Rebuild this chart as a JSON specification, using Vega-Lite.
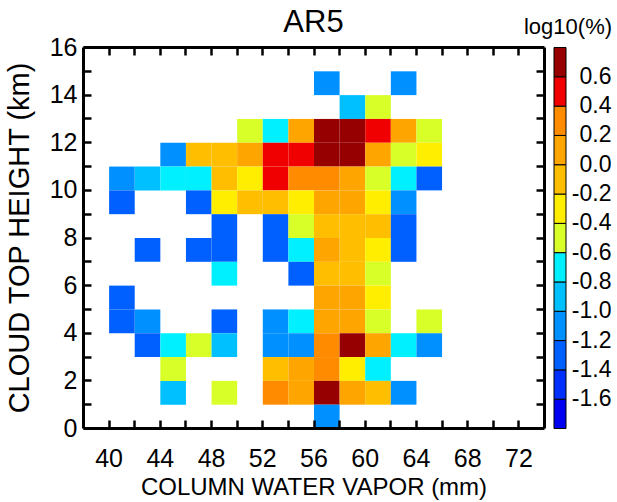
{
  "$schema": "https://vega.github.io/schema/vega-lite/v6.json",
  "background": "white",
  "padding": {"left": 5, "top": 7, "right": 5, "bottom": 3},
  "bounds": "flush",
  "spacing": 10,
  "config": {
    "view": {"stroke": null},
    "font": "Liberation Sans",
    "axis": {"grid": false, "domainColor": "black", "domainWidth": 3, "tickColor": "black", "tickWidth": 2.5, "labelColor": "black", "titleColor": "black", "titleFontWeight": "normal"},
    "title": {"fontWeight": "normal", "color": "black"}
  },
  "datasets": {
    "cells": [
      {"cwv": 56, "cth": 14, "v": -1.1}, {"cwv": 62, "cth": 14, "v": -1.1},
      {"cwv": 58, "cth": 13, "v": -0.9}, {"cwv": 60, "cth": 13, "v": -0.5},
      {"cwv": 50, "cth": 12, "v": -0.5}, {"cwv": 52, "cth": 12, "v": -0.7}, {"cwv": 54, "cth": 12, "v": 0.1}, {"cwv": 56, "cth": 12, "v": 0.7}, {"cwv": 58, "cth": 12, "v": 0.7}, {"cwv": 60, "cth": 12, "v": 0.5}, {"cwv": 62, "cth": 12, "v": 0.1}, {"cwv": 64, "cth": 12, "v": -0.5},
      {"cwv": 44, "cth": 11, "v": -1.1}, {"cwv": 46, "cth": 11, "v": -0.1}, {"cwv": 48, "cth": 11, "v": -0.1}, {"cwv": 50, "cth": 11, "v": 0.1}, {"cwv": 52, "cth": 11, "v": 0.5}, {"cwv": 54, "cth": 11, "v": 0.5}, {"cwv": 56, "cth": 11, "v": 0.7}, {"cwv": 58, "cth": 11, "v": 0.7}, {"cwv": 60, "cth": 11, "v": 0.1}, {"cwv": 62, "cth": 11, "v": -0.5}, {"cwv": 64, "cth": 11, "v": -0.3},
      {"cwv": 40, "cth": 10, "v": -1.1}, {"cwv": 42, "cth": 10, "v": -0.9}, {"cwv": 44, "cth": 10, "v": -0.7}, {"cwv": 46, "cth": 10, "v": -0.7}, {"cwv": 48, "cth": 10, "v": -0.1}, {"cwv": 50, "cth": 10, "v": -0.3}, {"cwv": 52, "cth": 10, "v": 0.5}, {"cwv": 54, "cth": 10, "v": 0.3}, {"cwv": 56, "cth": 10, "v": 0.3}, {"cwv": 58, "cth": 10, "v": 0.1}, {"cwv": 60, "cth": 10, "v": -0.5}, {"cwv": 62, "cth": 10, "v": -0.7}, {"cwv": 64, "cth": 10, "v": -1.3},
      {"cwv": 40, "cth": 9, "v": -1.3}, {"cwv": 46, "cth": 9, "v": -1.3}, {"cwv": 48, "cth": 9, "v": -0.3}, {"cwv": 50, "cth": 9, "v": -0.1}, {"cwv": 52, "cth": 9, "v": -0.1}, {"cwv": 54, "cth": 9, "v": -0.3}, {"cwv": 56, "cth": 9, "v": 0.1}, {"cwv": 58, "cth": 9, "v": 0.1}, {"cwv": 60, "cth": 9, "v": -0.3}, {"cwv": 62, "cth": 9, "v": -1.1},
      {"cwv": 48, "cth": 8, "v": -1.3}, {"cwv": 52, "cth": 8, "v": -1.3}, {"cwv": 54, "cth": 8, "v": -0.5}, {"cwv": 56, "cth": 8, "v": -0.1}, {"cwv": 58, "cth": 8, "v": -0.1}, {"cwv": 60, "cth": 8, "v": -0.1}, {"cwv": 62, "cth": 8, "v": -1.3},
      {"cwv": 42, "cth": 7, "v": -1.3}, {"cwv": 46, "cth": 7, "v": -1.3}, {"cwv": 48, "cth": 7, "v": -1.3}, {"cwv": 52, "cth": 7, "v": -1.3}, {"cwv": 54, "cth": 7, "v": -0.7}, {"cwv": 56, "cth": 7, "v": 0.1}, {"cwv": 58, "cth": 7, "v": -0.1}, {"cwv": 60, "cth": 7, "v": -0.3}, {"cwv": 62, "cth": 7, "v": -1.3},
      {"cwv": 48, "cth": 6, "v": -0.7}, {"cwv": 54, "cth": 6, "v": -1.3}, {"cwv": 56, "cth": 6, "v": -0.1}, {"cwv": 58, "cth": 6, "v": -0.1}, {"cwv": 60, "cth": 6, "v": -0.5},
      {"cwv": 40, "cth": 5, "v": -1.3}, {"cwv": 56, "cth": 5, "v": 0.1}, {"cwv": 58, "cth": 5, "v": 0.1}, {"cwv": 60, "cth": 5, "v": -0.3},
      {"cwv": 40, "cth": 4, "v": -1.3}, {"cwv": 42, "cth": 4, "v": -1.1}, {"cwv": 48, "cth": 4, "v": -1.3}, {"cwv": 52, "cth": 4, "v": -1.1}, {"cwv": 54, "cth": 4, "v": -0.7}, {"cwv": 56, "cth": 4, "v": 0.1}, {"cwv": 58, "cth": 4, "v": 0.1}, {"cwv": 60, "cth": 4, "v": -0.5}, {"cwv": 64, "cth": 4, "v": -0.5},
      {"cwv": 42, "cth": 3, "v": -1.3}, {"cwv": 44, "cth": 3, "v": -0.7}, {"cwv": 46, "cth": 3, "v": -0.5}, {"cwv": 48, "cth": 3, "v": -0.9}, {"cwv": 52, "cth": 3, "v": -1.1}, {"cwv": 54, "cth": 3, "v": -1.1}, {"cwv": 56, "cth": 3, "v": 0.3}, {"cwv": 58, "cth": 3, "v": 0.7}, {"cwv": 60, "cth": 3, "v": 0.1}, {"cwv": 62, "cth": 3, "v": -0.7}, {"cwv": 64, "cth": 3, "v": -1.1},
      {"cwv": 44, "cth": 2, "v": -0.5}, {"cwv": 52, "cth": 2, "v": -0.1}, {"cwv": 54, "cth": 2, "v": 0.1}, {"cwv": 56, "cth": 2, "v": 0.3}, {"cwv": 58, "cth": 2, "v": -0.3}, {"cwv": 60, "cth": 2, "v": -0.7},
      {"cwv": 44, "cth": 1, "v": -0.9}, {"cwv": 48, "cth": 1, "v": -0.5}, {"cwv": 52, "cth": 1, "v": 0.3}, {"cwv": 54, "cth": 1, "v": 0.1}, {"cwv": 56, "cth": 1, "v": 0.7}, {"cwv": 58, "cth": 1, "v": 0.1}, {"cwv": 60, "cth": 1, "v": -0.1}, {"cwv": 62, "cth": 1, "v": -1.1},
      {"cwv": 56, "cth": 0, "v": -1.1}
    ],
    "bar": [
      {"lo": -1.8}, {"lo": -1.6}, {"lo": -1.4}, {"lo": -1.2}, {"lo": -1.0}, {"lo": -0.8}, {"lo": -0.6},
      {"lo": -0.4}, {"lo": -0.2}, {"lo": 0.0}, {"lo": 0.2}, {"lo": 0.4}, {"lo": 0.6}
    ]
  },
  "resolve": {"scale": {"color": "independent"}},
  "hconcat": [
    {
      "width": 461,
      "height": 381,
      "title": {"text": "AR5", "fontSize": 31, "offset": -4},
      "data": {"name": "cells"},
      "layer": [
        {
          "mark": {"type": "rect", "binSpacing": 0},
          "encoding": {
            "x": {"field": "cwv", "type": "quantitative", "bin": {"binned": true, "step": 2},
              "scale": {"domain": [38, 74], "nice": false, "zero": false},
              "axis": {"orient": "bottom", "title": "COLUMN WATER VAPOR (mm)", "titleFontSize": 24, "titlePadding": 4,
                "values": [40, 42, 44, 46, 48, 50, 52, 54, 56, 58, 60, 62, 64, 66, 68, 70, 72],
                "labelExpr": "datum.value % 4 == 0 ? datum.label : ''",
                "tickSize": -8, "labelPadding": 26, "labelFontSize": 25, "labelFlush": false}},
            "y": {"field": "cth", "type": "quantitative", "bin": {"binned": true, "step": 1},
              "scale": {"domain": [0, 16], "nice": false, "zero": false},
              "axis": {"orient": "left", "title": "CLOUD TOP HEIGHT (km)", "titleFontSize": 29, "titlePadding": 15,
                "values": [0, 1, 2, 3, 4, 5, 6, 7, 8, 9, 10, 11, 12, 13, 14, 15, 16],
                "labelExpr": "datum.value % 2 == 0 ? datum.label : ''",
                "tickSize": -8, "labelPadding": 14, "labelFontSize": 25, "labelFlush": false}},
            "color": {"field": "v", "type": "quantitative",
              "scale": {"type": "threshold", "domain": [-1.6, -1.4, -1.2, -1.0, -0.8, -0.6, -0.4, -0.2, 0.0, 0.2, 0.4, 0.6],
                "range": ["#0000f0", "#0030ff", "#0060ff", "#0090ff", "#00c0ff", "#00f0ff", "#d8ff28", "#ffee00", "#ffbf00", "#ffa500", "#ff8c00", "#f00000", "#960000"]},
              "legend": null}
          }
        },
        {
          "mark": {"type": "rect", "binSpacing": 0, "opacity": 0},
          "encoding": {
            "x": {"field": "cwv", "type": "quantitative", "bin": {"binned": true, "step": 2},
              "axis": {"orient": "top", "title": null, "labels": false,
                "values": [40, 42, 44, 46, 48, 50, 52, 54, 56, 58, 60, 62, 64, 66, 68, 70, 72], "tickSize": -8}},
            "y": {"field": "cth", "type": "quantitative", "bin": {"binned": true, "step": 1},
              "axis": {"orient": "right", "title": null, "labels": false,
                "values": [1, 2, 3, 4, 5, 6, 7, 8, 9, 10, 11, 12, 13, 14, 15], "tickSize": -8}}
          }
        }
      ],
      "resolve": {"axis": {"x": "independent", "y": "independent"}}
    },
    {
      "width": 12,
      "height": 381,
      "title": {"text": "log10(%)", "fontSize": 22, "offset": 8, "dx": 8},
      "data": {"name": "bar"},
      "mark": {"type": "rect", "stroke": "black", "strokeWidth": 1},
      "encoding": {
        "y": {"field": "lo", "type": "quantitative", "bin": {"binned": true, "step": 0.2},
          "scale": {"domain": [-1.8, 0.8], "nice": false, "zero": false},
          "axis": {"orient": "right", "title": null, "domain": false, "ticks": false,
            "values": [-1.6, -1.4, -1.2, -1.0, -0.8, -0.6, -0.4, -0.2, 0.0, 0.2, 0.4, 0.6],
            "labelExpr": "(datum.value < -0.001 ? '-' : '') + format(abs(datum.value), '.1f')",
            "labelAlign": "right", "labelBaseline": "middle", "labelPadding": 45, "labelFontSize": 23, "labelFlush": false}},
        "color": {"field": "lo", "type": "quantitative",
          "scale": {"type": "threshold", "domain": [-1.6, -1.4, -1.2, -1.0, -0.8, -0.6, -0.4, -0.2, 0.0, 0.2, 0.4, 0.6],
            "range": ["#0000f0", "#0030ff", "#0060ff", "#0090ff", "#00c0ff", "#00f0ff", "#d8ff28", "#ffee00", "#ffbf00", "#ffa500", "#ff8c00", "#f00000", "#960000"]},
          "legend": null}
      }
    }
  ]
}
